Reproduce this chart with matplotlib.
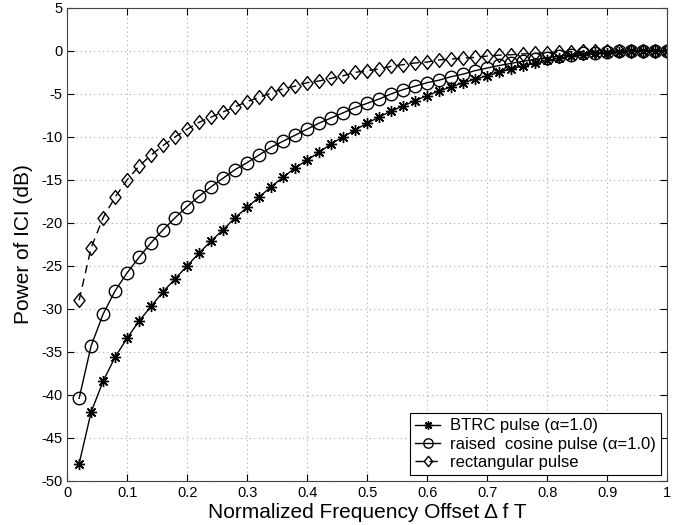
import matplotlib
matplotlib.use("Agg")
import matplotlib.pyplot as plt
import numpy as np
from matplotlib.path import Path

plt.rcParams["font.family"] = ["Liberation Sans", "DejaVu Sans"]
plt.rcParams["axes.unicode_minus"] = False

# normalized frequency offset (0.02 ... 1.0)
offset = [round(0.02 * k, 2) for k in range(1, 51)]

# BTRC pulse (alpha=1.0), dB
btrc = [-48.0, -42.0, -38.4, -35.6, -33.4, -31.4, -29.7, -28.0, -26.5, -25.0,
        -23.5, -22.1, -20.8, -19.4, -18.2, -17.0, -15.8, -14.7, -13.6, -12.7,
        -11.8, -10.8, -10.0, -9.2, -8.4, -7.7, -7.0, -6.4, -5.8, -5.2,
        -4.65, -4.2, -3.7, -3.3, -2.9, -2.5, -2.1, -1.75, -1.4, -1.1,
        -0.85, -0.6, -0.45, -0.3, -0.2, -0.12, -0.07, -0.03, -0.01, 0.0]

# raised cosine pulse (alpha=1.0), dB
raised_cos = [-40.4, -34.3, -30.6, -27.9, -25.8, -24.0, -22.3, -20.8, -19.4, -18.1,
              -16.9, -15.8, -14.8, -13.8, -13.0, -12.1, -11.2, -10.5, -9.8, -9.1,
              -8.4, -7.8, -7.2, -6.6, -6.1, -5.6, -5.0, -4.5, -4.1, -3.7,
              -3.4, -3.0, -2.7, -2.3, -2.0, -1.7, -1.45, -1.2, -1.0, -0.8,
              -0.6, -0.45, -0.3, -0.2, -0.12, -0.07, -0.03, -0.01, 0.0, 0.0]

# rectangular pulse, dB
rect = [-29.0, -22.9, -19.4, -17.0, -15.0, -13.4, -12.1, -11.0, -10.0, -9.1,
        -8.3, -7.7, -7.1, -6.5, -5.9, -5.4, -4.9, -4.4, -4.1, -3.7,
        -3.5, -3.2, -2.9, -2.5, -2.3, -2.1, -1.8, -1.6, -1.4, -1.3,
        -1.05, -0.95, -0.85, -0.75, -0.6, -0.5, -0.45, -0.35, -0.3, -0.2,
        -0.15, -0.1, -0.07, -0.05, -0.03, -0.02, -0.01, 0.0, 0.0, 0.0]

# MATLAB-like diamond, a bit taller than wide
diamond = Path([(0, 1), (0.8, 0), (0, -1), (-0.8, 0), (0, 1)],
               [Path.MOVETO, Path.LINETO, Path.LINETO, Path.LINETO, Path.CLOSEPOLY])

fig = plt.figure(figsize=(6.78, 5.25), dpi=100)
ax = fig.add_axes([0.099, 0.084, 0.885, 0.901])

ax.plot(offset, btrc, "-", color="black", lw=1.0, marker=(8, 2, 0), ms=8,
        mec="black", mew=1.0, label="BTRC pulse (α=1.0)")
ax.plot(offset, raised_cos, "-", color="black", lw=1.0, marker="o", ms=9,
        mfc="none", mec="black", mew=1.0, label="raised  cosine pulse (α=1.0)")
ax.plot(offset, rect, color="black", lw=1.0, marker=diamond, ms=10,
        mfc="none", mec="black", mew=1.0, dashes=(6, 4),
        label="rectangular pulse")

ax.set_xlim(0, 1)
ax.set_ylim(-50, 5)
ax.set_xticks(np.arange(0, 1.01, 0.1))
ax.set_xticklabels(["0", "0.1", "0.2", "0.3", "0.4", "0.5", "0.6", "0.7", "0.8", "0.9", "1"])
ax.set_yticks(np.arange(-50, 6, 5))
ax.grid(True, color="#aaaaaa", ls=(0, (1, 3)), lw=0.8)
ax.tick_params(direction="in", top=True, right=True, labelsize=10.5, length=5)
for s in ax.spines.values():
    s.set_color("#444444")
    s.set_linewidth(0.8)

ax.set_xlabel("Normalized Frequency Offset Δ f T", fontsize=15, labelpad=2)
ax.set_ylabel("Power of ICI (dB)", fontsize=15, labelpad=6)

leg = ax.legend(loc="lower right", fontsize=12, frameon=True, fancybox=False,
                edgecolor="black", handlelength=1.5, borderaxespad=0.35,
                labelspacing=0.2, handletextpad=0.6, borderpad=0.3,
                markerscale=0.75, framealpha=1)
leg.get_frame().set_linewidth(0.8)

fig.savefig("out.png", dpi=100)
